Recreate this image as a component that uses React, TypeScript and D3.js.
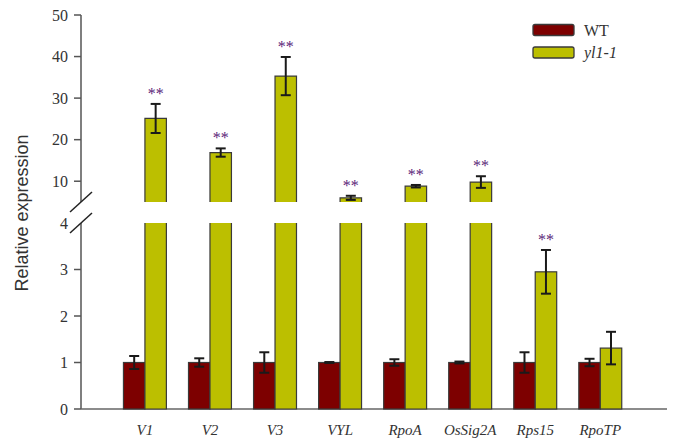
import React from "react";
import * as d3 from "d3";

const genes = ["V1", "V2", "V3", "VYL", "RpoA", "OsSig2A", "Rps15", "RpoTP"];
const wtValues = [1, 1, 1, 1, 1, 1, 1, 1];
const wtErrors = [0.14, 0.09, 0.22, 0.01, 0.07, 0.02, 0.22, 0.08];
const ylValues = [25.1, 16.9, 35.3, 6.0, 8.8, 9.8, 2.95, 1.31];
const ylErrors = [3.5, 1.0, 4.6, 0.5, 0.3, 1.4, 0.47, 0.35];
const ylStars = [true, true, true, true, true, true, true, false];
const upperTicks = [10, 20, 30, 40, 50];
const lowerTicks = [0, 1, 2, 3, 4];

const W = 675;
const H = 446;
const AX = 81;
const WT_COLOR = "#7d0000";
const YL_COLOR = "#bcbf00";
const EDGE = "#3a3a3a";
const TEXT = "#333333";
const SERIF = "'Liberation Serif', 'Times New Roman', serif";
const SANS = "'Liberation Sans', Arial, sans-serif";

// two-segment y axis
const yLo = d3.scaleLinear().domain([0, 4]).range([409, 223]);
const yUp = d3.scaleLinear().domain([5, 50]).range([202, 15]);
const yOf = (v: number) => (v <= 4 ? yLo(v) : yUp(v));

const x = d3.scaleBand<string>()
  .domain(genes)
  .range([112.4, 112.4 + 65.05 * 8])
  .paddingInner(0.34)
  .paddingOuter(0.17);
const sub = d3.scaleBand<string>().domain(["WT", "yl"]).range([0, x.bandwidth()]);

function Bar({ x0, w, v, fill }: { x0: number; w: number; v: number; fill: string }) {
  if (v <= 4) {
    return (
      <rect x={x0} y={yLo(v)} width={w} height={yLo(0) - yLo(v)}
        fill={fill} stroke={EDGE} strokeWidth={1.2} />
    );
  }
  const loTop = yLo(4);
  const upTop = yUp(v);
  const upBot = yUp(5);
  return (
    <g>
      <rect x={x0} y={loTop} width={w} height={yLo(0) - loTop} fill={fill} />
      <path d={`M${x0},${loTop}V${yLo(0)}H${x0 + w}V${loTop}`} fill="none" stroke={EDGE} strokeWidth={1.2} />
      <rect x={x0} y={upTop} width={w} height={upBot - upTop} fill={fill} />
      <path d={`M${x0},${upBot}V${upTop}H${x0 + w}V${upBot}`} fill="none" stroke={EDGE} strokeWidth={1.2} />
    </g>
  );
}

function ErrBar({ cx, v, e }: { cx: number; v: number; e: number }) {
  const t = yOf(v + e);
  const b = yOf(v - e);
  return (
    <g stroke="#1a1a1a" strokeWidth={2}>
      <line x1={cx} x2={cx} y1={t} y2={b} />
      <line x1={cx - 5} x2={cx + 5} y1={t} y2={t} />
      <line x1={cx - 5} x2={cx + 5} y1={b} y2={b} />
    </g>
  );
}

export default function App() {
  const bw = sub.bandwidth();
  return (
    <svg width={W} height={H} style={{ position: "absolute", left: 0, top: 0, background: "#fff" }}>
      {/* y axis: upper and lower segments */}
      <line x1={AX} x2={AX} y1={yUp(50)} y2={yUp(5)} stroke="#555" strokeWidth={1.5} />
      <line x1={AX} x2={AX} y1={yLo(4)} y2={yLo(0)} stroke="#555" strokeWidth={1.5} />
      <line x1={AX} x2={667} y1={yLo(0)} y2={yLo(0)} stroke="#666" strokeWidth={1.5} />
      {upperTicks.map((t) => (
        <g key={"u" + t}>
          <line x1={AX - 7} x2={AX} y1={yUp(t)} y2={yUp(t)} stroke="#555" strokeWidth={1.5} />
          <text x={AX - 13} y={yUp(t) + 5.5} textAnchor="end" fontFamily={SERIF} fontSize={16} fill={TEXT}>{t}</text>
        </g>
      ))}
      {lowerTicks.map((t) => (
        <g key={"l" + t}>
          {t < 4 && <line x1={AX - 7} x2={AX} y1={yLo(t)} y2={yLo(t)} stroke="#555" strokeWidth={1.5} />}
          <text x={AX - 13} y={yLo(t) + 5.5} textAnchor="end" fontFamily={SERIF} fontSize={16} fill={TEXT}>{t}</text>
        </g>
      ))}
      {/* break marks */}
      {[yUp(5), yLo(4)].map((yy, i) => (
        <line key={"br" + i} x1={AX - 11} y1={yy + 10} x2={AX + 11} y2={yy - 10} stroke="#222" strokeWidth={1.5} />
      ))}
      <text transform={`translate(28,${213}) rotate(-90)`} textAnchor="middle" fontFamily={SANS} fontSize={18} fill={TEXT}>
        Relative expression
      </text>

      {genes.map((g, i) => {
        const gx = x(g) as number;
        const wx = gx + (sub("WT") as number);
        const yx = gx + (sub("yl") as number);
        const errTop = yOf(ylValues[i] + ylErrors[i]);
        return (
          <g key={g}>
            <Bar x0={wx} w={bw} v={wtValues[i]} fill={WT_COLOR} />
            <Bar x0={yx} w={bw} v={ylValues[i]} fill={YL_COLOR} />
            <ErrBar cx={wx + bw / 2} v={wtValues[i]} e={wtErrors[i]} />
            <ErrBar cx={yx + bw / 2} v={ylValues[i]} e={ylErrors[i]} />
            {ylStars[i] && (
              <text x={yx + bw / 2} y={errTop - 5} textAnchor="middle" fontFamily={SERIF} fontSize={16}
                fill="#5a1e78">**</text>
            )}
            <text x={gx + x.bandwidth() / 2} y={435} textAnchor="middle" fontFamily={SERIF}
              fontStyle="italic" fontSize={15} fill={TEXT}>{g}</text>
          </g>
        );
      })}

      {/* legend */}
      <rect x={533} y={24.5} width={41} height={11} rx={2} fill={WT_COLOR} stroke={EDGE} strokeWidth={1.3} />
      <rect x={533} y={47} width={41} height={11} rx={2} fill={YL_COLOR} stroke={EDGE} strokeWidth={1.3} />
      <text x={584} y={36} fontFamily={SERIF} fontSize={16} fill={TEXT}>WT</text>
      <text x={584} y={58} fontFamily={SERIF} fontStyle="italic" fontSize={16} fill={TEXT}>yl1-1</text>
    </svg>
  );
}
